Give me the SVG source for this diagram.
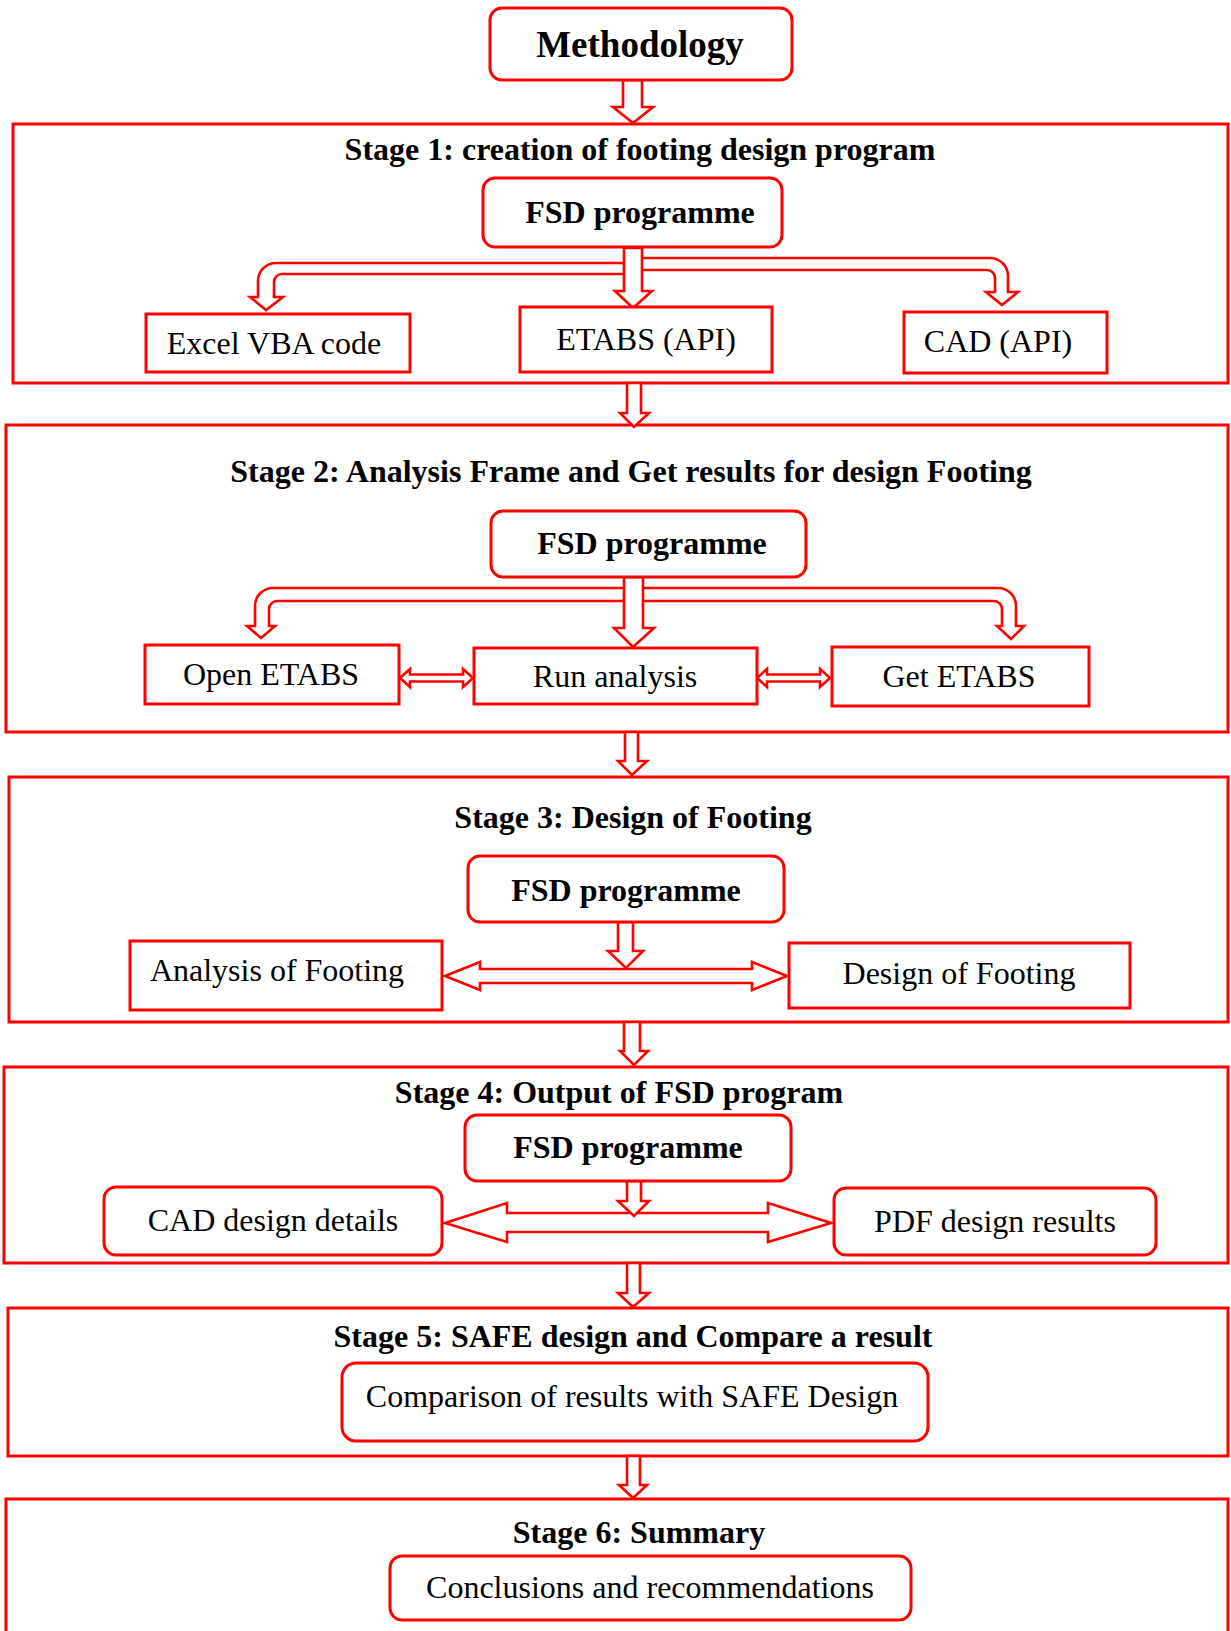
<svg xmlns="http://www.w3.org/2000/svg" width="1231" height="1631" viewBox="0 0 1231 1631">
<style>
.stage{fill:#fff;stroke:#ff0000;stroke-width:3}
.box{fill:#fff;stroke:#ff0000;stroke-width:3}
.arr{fill:#fff;stroke:#ff0000;stroke-width:2.6;stroke-linejoin:miter}
.t{font-family:"Liberation Serif","Times New Roman",serif;font-size:32px;fill:#000;text-anchor:middle}
.b{font-weight:bold}
</style>
<rect width="1231" height="1631" fill="#fff"/>
<g id="stages">
<rect id="stage1" class="stage" x="13" y="124" width="1215" height="259"/>
<rect id="stage2" class="stage" x="6" y="425" width="1222" height="307"/>
<rect id="stage3" class="stage" x="9" y="777" width="1219" height="245"/>
<rect id="stage4" class="stage" x="4" y="1067" width="1224" height="196"/>
<rect id="stage5" class="stage" x="8" y="1308" width="1220" height="148"/>
<rect id="stage6" class="stage" x="6" y="1499" width="1222" height="200"/>
<text class="t b" x="640" y="160">Stage 1: creation of footing design program</text>
<text class="t b" x="631" y="482">Stage 2: Analysis Frame and Get results for design Footing</text>
<text class="t b" x="633" y="828">Stage 3: Design of Footing</text>
<text class="t b" x="619" y="1103">Stage 4: Output of FSD program</text>
<text class="t b" x="633" y="1347">Stage 5: SAFE design and Compare a result</text>
<text class="t b" x="639" y="1543">Stage 6: Summary</text>
</g>
<g id="connectors">
<path class="arr" d="M623 80H642V107H653L633 123L613 107H623Z"/>
<path class="arr" d="M627 383H641V413H649L634 427L620 413H627Z"/>
<path class="arr" d="M625 732H638V761H647L632 775L618 761H625Z"/>
<path class="arr" d="M624 1022H640V1051H648L634 1065L620 1051H624Z"/>
<path class="arr" d="M627 1263H640V1293H649L633 1307L618 1293H627Z"/>
<path class="arr" d="M627 1456H640V1485H647L633 1498L619 1485H627Z"/>
<path class="arr" d="M633 263H276A18 18 0 0 0 258 281V297H250L266 310L283 297H274V282A8 8 0 0 1 282 274H633Z"/>
<path class="arr" d="M633 258H990A18 18 0 0 1 1008 276V292H1018L1002 305L986 292H995V278A8 8 0 0 0 987 270H633Z"/>
<path class="arr" d="M624 248H642V291H652L633 308L615 291H624Z"/>
<path class="arr" d="M633 588H273A18 18 0 0 0 255 606V626H247L261 638L275 626H269V609A8 8 0 0 1 277 601H633Z"/>
<path class="arr" d="M633 588H998A18 18 0 0 1 1016 606V626H1024L1011 639L997 626H1002V609A8 8 0 0 0 994 601H633Z"/>
<path class="arr" d="M624 577H643V628H654L633 647L614 628H624Z"/>
<path class="arr" d="M400 678L410 669V674.5H463V669L473 678L463 687V681.5H410V687Z"/>
<path class="arr" d="M757 678L767 669V674.5H820V669L830 678L820 687V681.5H767V687Z"/>
<path class="arr" d="M445 976L480 962V969H752V962L787 976L752 990V983H480V990Z"/>
<path class="arr" d="M618 922H633V951H643L626 968L608 951H618Z"/>
<path class="arr" d="M445 1223L507 1203V1213H768V1203L831 1223L768 1242V1232H507V1242Z"/>
<path class="arr" d="M627 1181H641V1201H649L634 1216L618 1201H627Z"/>
</g>
<g id="n-methodology"><rect class="box" x="490" y="8" width="302" height="72" rx="12"/><text class="t b" x="640" y="57" style="font-size:37px">Methodology</text></g>
<g id="n-fsd1"><rect class="box" x="483" y="178" width="299" height="69" rx="12"/><text class="t b" x="640" y="223">FSD programme</text></g>
<g id="n-excel"><rect class="box" x="146" y="314" width="264" height="58"/><text class="t" x="274" y="354">Excel VBA code</text></g>
<g id="n-etabsapi"><rect class="box" x="520" y="307" width="252" height="65"/><text class="t" x="646" y="350">ETABS (API)</text></g>
<g id="n-cadapi"><rect class="box" x="904" y="312" width="203" height="61"/><text class="t" x="998" y="352">CAD (API)</text></g>
<g id="n-fsd2"><rect class="box" x="491" y="511" width="315" height="66" rx="12"/><text class="t b" x="652" y="554">FSD programme</text></g>
<g id="n-open"><rect class="box" x="145" y="645" width="254" height="59"/><text class="t" x="271" y="685">Open ETABS</text></g>
<g id="n-run"><rect class="box" x="474" y="648" width="283" height="56"/><text class="t" x="615" y="687">Run analysis</text></g>
<g id="n-get"><rect class="box" x="832" y="647" width="257" height="59"/><text class="t" x="959" y="687">Get ETABS</text></g>
<g id="n-fsd3"><rect class="box" x="468" y="856" width="316" height="66" rx="12"/><text class="t b" x="626" y="901">FSD programme</text></g>
<g id="n-analysis"><rect class="box" x="130" y="941" width="312" height="69"/><text class="t" x="277" y="981">Analysis of Footing</text></g>
<g id="n-design"><rect class="box" x="789" y="943" width="341" height="65"/><text class="t" x="959" y="984">Design of Footing</text></g>
<g id="n-fsd4"><rect class="box" x="465" y="1115" width="326" height="66" rx="12"/><text class="t b" x="628" y="1158">FSD programme</text></g>
<g id="n-cad"><rect class="box" x="104" y="1187" width="338" height="68" rx="12"/><text class="t" x="273" y="1231">CAD design details</text></g>
<g id="n-pdf"><rect class="box" x="834" y="1188" width="322" height="67" rx="12"/><text class="t" x="995" y="1232">PDF design results</text></g>
<g id="n-compare"><rect class="box" x="342" y="1363" width="586" height="78" rx="14"/><text class="t" x="632" y="1407">Comparison of results with SAFE Design</text></g>
<g id="n-concl"><rect class="box" x="390" y="1556" width="521" height="64" rx="12"/><text class="t" x="650" y="1598">Conclusions and recommendations</text></g>
</svg>
